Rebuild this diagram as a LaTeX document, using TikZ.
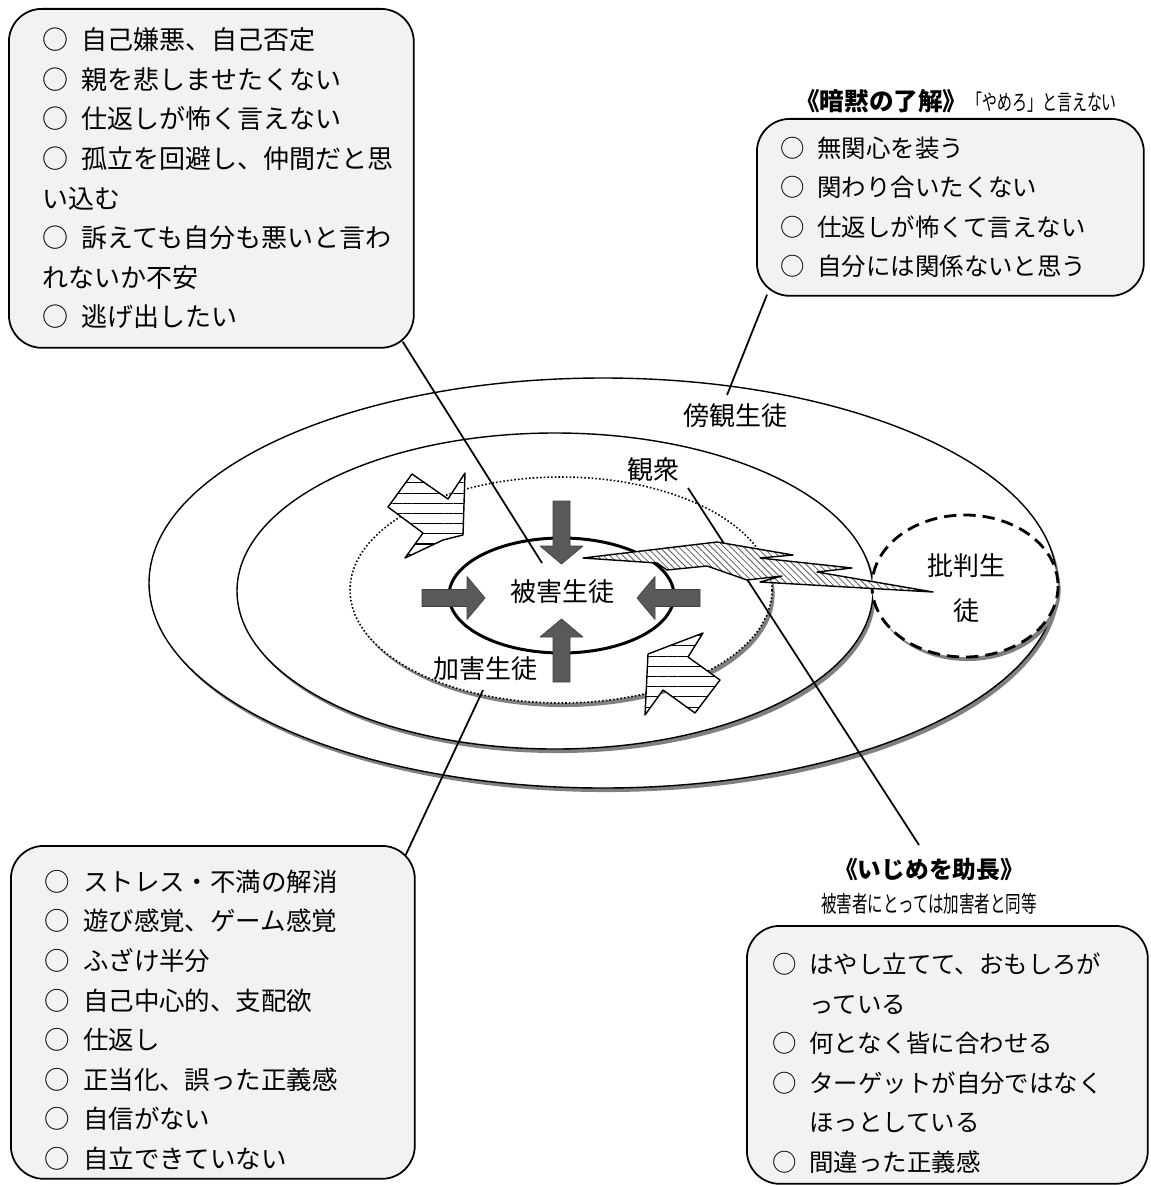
\documentclass[tikz,border=0pt]{standalone}
\usepackage{fontspec}
\setmainfont{Noto Sans CJK JP}
\usepackage{graphicx}
\usetikzlibrary{shadows,patterns.meta,calc}
\definecolor{boxgray}{HTML}{F2F2F2}
\definecolor{arrowgray}{HTML}{595959}
\definecolor{shadowgray}{HTML}{808080}
\newcommand\maru{○\kern0.5em}
\newcommand\narrow[1]{\scalebox{0.68}[1]{#1}}

\tikzset{
  memobox/.style={draw, line width=1pt, fill=boxgray, rounded corners=0.66cm,
    anchor=north west, align=left, inner xsep=0pt},
  ring/.style={draw, line width=0.8pt, fill=white,
    drop shadow={shadow xshift=1.5pt, shadow yshift=-2.3pt, fill=shadowgray, opacity=1}},
  lbl/.style={font=\fontsize{14.8}{26}\selectfont, inner sep=0pt},
  conn/.style={line width=1pt},
  garrow/.style={fill=arrowgray, draw=black!75, line width=0.4pt},
  stripe/.style={draw, line width=0.8pt, line join=round, preaction={fill=white},
    pattern={Lines[angle=0, distance=5.8pt, line width=0.6pt]}},
  bolt/.style={draw, line width=0.8pt, preaction={fill=white},
    pattern={Lines[angle=-45, distance=2.6pt, line width=0.45pt]}, pattern color=black!65},
}

\begin{document}
\begin{tikzpicture}[x=0.02cm, y=-0.02cm, line join=round]
\useasboundingbox (0,0) rectangle (1150,1186);

% 三重の輪
\draw[ring] (603,583) ellipse [x radius=454, y radius=205];
\draw[ring] (555,591) ellipse [x radius=318, y radius=158];
\draw[ring, line width=1.6pt, dash pattern=on 7pt off 4pt] (965,586) ellipse [x radius=93, y radius=71];
\draw[ring, line width=0.9pt, dash pattern=on 0.9pt off 1.2pt] (561,590) ellipse [x radius=211, y radius=113];
\draw[line width=1.7pt, fill=white] (561.5,595.5) ellipse [x radius=112.5, y radius=57.5];

% 被害生徒へ向かう矢印
\foreach \x/\y/\a in {561.5/564/-90, 561.5/619/90, 485/598/0, 637/598/180}{
  \begin{scope}[shift={(\x,\y)}, rotate=\a]
    \draw[garrow] (0,0) -- (-18,-21.5) -- (-18,-8.5) -- (-63,-8.5) -- (-63,8.5) -- (-18,8.5) -- (-18,21.5) -- cycle;
  \end{scope}
}

% 縞の矢印
\draw[stripe] (388,507) -- (412,474) -- (448,499) -- (465,473) -- (463,535) -- (443,540) -- (405,558) -- (423,533) -- cycle;
\draw[stripe] (648,654) -- (703,633) -- (688,657) -- (720,680) -- (695,713) -- (663,690) -- (645,715) -- cycle;

% 吹き出しの線
\coordinate (p1) at (542,563);
\coordinate (p2) at (727,395);
\coordinate (p3) at (483,690);
\coordinate (p4a) at (688,488);
\coordinate (p4b) at (919,845);

% 囲み
\node[memobox, font=\fontsize{14.8}{22.5}\selectfont, minimum width=8.1cm, minimum height=6.78cm, text width=6.74cm] (memo1) at (8,8) {%
\maru 自己嫌悪、自己否定\\
\maru 親を悲しませたくない\\
\maru 仕返しが怖く言えない\\
\maru 孤立を回避し、仲間だと思\\
い込む\\
\maru 訴えても自分も悪いと言わ\\
れないか不安\\
\maru 逃げ出したい};

\node[memobox, font=\fontsize{13.9}{22.5}\selectfont, minimum width=7.74cm, minimum height=3.54cm, text width=6.78cm] (memo2) at (756,118) {%
\maru 無関心を装う\\
\maru 関わり合いたくない\\
\maru 仕返しが怖くて言えない\\
\maru 自分には関係ないと思う};

\node[memobox, font=\fontsize{14.5}{22.5}\selectfont, minimum width=8.08cm, minimum height=6.66cm, text width=6.72cm] (memo3) at (10,845) {%
\rule{0pt}{21pt}\maru ストレス・不満の解消\\
\maru 遊び感覚、ゲーム感覚\\
\maru ふざけ半分\\
\maru 自己中心的、支配欲\\
\maru 仕返し\\
\maru 正当化、誤った正義感\\
\maru 自信がない\\
\maru 自立できていない};

\node[memobox, font=\fontsize{13.9}{22.5}\selectfont, minimum width=8.02cm, minimum height=5.16cm, text width=6.98cm] (memo4) at (746,925) {%
\rule{0pt}{21pt}\maru はやし立てて、おもしろが\\
\hspace*{1.5em}っている\\
\maru 何となく皆に合わせる\\
\maru ターゲットが自分ではなく\\
\hspace*{1.5em}ほっとしている\\
\maru 間違った正義感};

\draw[conn] ($(memo1.south east)+(-12,-7)$) -- (p1);
\draw[conn] ($(memo2.south west)+(11,-2)$) -- (p2);
\draw[conn] (p3) -- ($(memo3.north east)+(-10,10)$);
\draw[conn] (p4a) -- (p4b);

% 稲妻
\draw[bolt] (583,558) -- (717,542) -- (793,555) -- (760,558) -- (852,568) -- (817,572) -- (933,592)
  -- (760,582) -- (782,576) -- (747,580) -- (707,566) -- (667,570) -- (657,563) -- cycle;

% ラベル
\node[lbl] (higai) at (562,592) {被害生徒};
\node[lbl] (kagai) at (485,669) {加害生徒};
\node[lbl] (kanshu) at (653,470) {観衆};
\node[lbl] (boukan) at (735,416) {傍観生徒};
\node[lbl, align=center] (hihan) at (966,588) {批判生\\徒};

\node[anchor=west, inner sep=0pt] (anmoku) at (795,101)
  {{\bfseries\fontsize{14}{16}\selectfont 《暗黙の了解》}\narrow{\fontsize{12.5}{14}\selectfont 「やめろ」と言えない}};
\node[inner sep=0pt, font=\bfseries\fontsize{13.5}{15}\selectfont] (jochou) at (929,869) {《いじめを助長》};
\node[inner sep=0pt] (doutou) at (929,904) {\narrow{\fontsize{13}{15}\selectfont 被害者にとっては加害者と同等}};
\end{tikzpicture}
\end{document}
